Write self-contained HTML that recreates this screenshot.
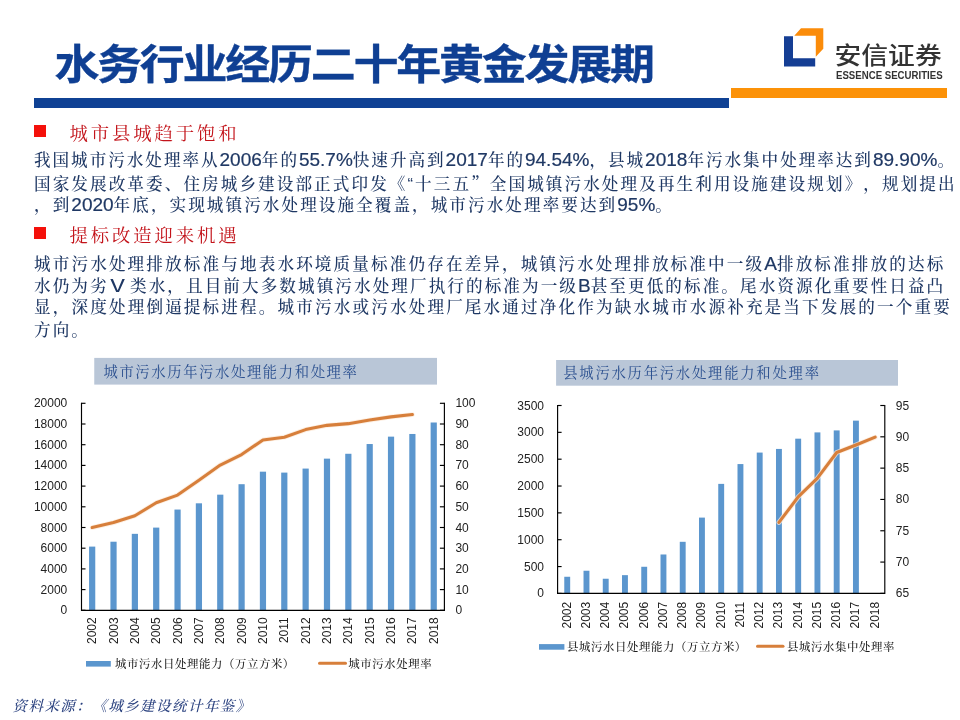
<!DOCTYPE html>
<html lang="zh-CN">
<head>
<meta charset="utf-8">
<title>水务行业经历二十年黄金发展期</title>
<style>
html,body{margin:0;padding:0;background:#fff;}
body{text-spacing-trim:space-all;width:960px;height:720px;position:relative;overflow:hidden;font-family:"Liberation Sans","Noto Sans CJK SC",sans-serif;}
.abs{position:absolute;}
h1{position:absolute;left:54.4px;top:35.4px;margin:0;font:bold 45px/62px "Liberation Sans","Noto Sans CJK SC",sans-serif;color:#0F3F93;white-space:nowrap;letter-spacing:-2.27px;-webkit-text-stroke:0.35px #0F3F93;transform:scaleY(0.9);transform-origin:0 50%;}
.bar1{position:absolute;left:34px;top:98px;width:695px;height:10px;background:#0F4194;}
.bar2{position:absolute;left:731px;top:88px;width:216px;height:10px;background:#FC9208;}
.sq{position:absolute;left:34px;width:12px;height:12px;background:#F4100A;}
.hd{position:absolute;left:69.5px;margin:0;font:normal 18.4px/28px "Liberation Sans","Noto Serif CJK SC",serif;color:#C3141B;white-space:nowrap;letter-spacing:2.85px;}
.bl{position:absolute;left:34px;height:28px;font:500 16.6px/28px "Liberation Sans","Noto Serif CJK SC",serif;color:#1F3864;white-space:nowrap;letter-spacing:2.09px;}
.n{font-size:19px;letter-spacing:0;-webkit-text-stroke:0.2px #1F3864;}
.q{font-family:"Noto Serif CJK SC",serif;}
.v{font-family:"Noto Sans CJK SC",sans-serif;font-weight:400;font-size:17px;letter-spacing:0;display:inline-block;width:17px;margin-right:4.4px;text-align:left;line-height:20px;transform:scaleX(1.48);}
.ct{position:absolute;height:26px;}
.ct{z-index:2;}
.ct span{position:absolute;top:0;font:normal 14.3px/26px "Liberation Sans","Noto Serif CJK SC",serif;color:#2A4F8F;white-space:nowrap;letter-spacing:1.64px;}
.lg{position:absolute;letter-spacing:0.6px;font:500 11.4px/16px "Liberation Sans","Noto Serif CJK SC",serif;color:#1c1c1c;white-space:nowrap;}
.src{position:absolute;left:12.5px;top:694px;letter-spacing:1.45px;font:italic 500 14.5px/24px "Liberation Sans","Noto Serif CJK SC",serif;color:#2C4380;white-space:nowrap;}
svg text.ax{font:12px "Liberation Sans",sans-serif;fill:#222;}
.logo-cn{position:absolute;left:834.5px;top:36.3px;font:500 26.8px/40px "Liberation Sans","Noto Sans CJK SC",sans-serif;color:#333;white-space:nowrap;transform:scaleY(0.875);transform-origin:0 50%;}
.logo-en{position:absolute;left:835.8px;top:70.3px;font:bold 10.3px/12px "Liberation Sans",sans-serif;color:#333;white-space:nowrap;letter-spacing:0;transform:scaleX(0.936);transform-origin:0 50%;}
</style>
</head>
<body>
<h1>水务行业经历二十年黄金发展期</h1>
<div class="bar1"></div>
<div class="bar2"></div>

<svg class="abs" style="left:780px;top:24px" width="50" height="48" viewBox="780 24 50 48">
<polygon points="784,36.3 793,36.3 793,58.2 815.2,58.2 815.2,66.5 784,66.5" fill="#153E94"/>
<polygon points="794.3,35.8 801,28.3 823.3,28.3 823.3,48.8 815.8,56.7 815.8,35.8" fill="#FB8C0A"/>
</svg>
<div class="logo-cn">安信证券</div>
<div class="logo-en">ESSENCE SECURITIES</div>

<div class="sq" style="top:125px"></div>
<h2 class="hd" style="top:119.6px">城市县城趋于饱和</h2>
<div class="sq" style="top:227px"></div>
<h2 class="hd" style="top:221.6px">提标改造迎来机遇</h2>
<div class="bl" style="top:146.0px;letter-spacing:1.96px">我国城市污水处理率从<span class="n">2006</span>年的<span class="n">55.7%</span>快速升高到<span class="n">2017</span>年的<span class="n">94.54%</span>，县城<span class="n">2018</span>年污水集中处理率达到<span class="n">89.90%</span>。</div>
<div class="bl" style="top:168.5px;letter-spacing:2.08px">国家发展改革委、住房城乡建设部正式印发<span class="q">《</span>“十三五<span class="q">”</span>全国城镇污水处理及再生利用设施建设规划》，规划提出</div>
<div class="bl" style="top:191.0px;letter-spacing:2.06px">，到<span class="n">2020</span>年底，实现城镇污水处理设施全覆盖，城市污水处理率要达到<span class="n">95%</span>。</div>
<div class="bl" style="top:250.0px;letter-spacing:2.13px">城市污水处理排放标准与地表水环境质量标准仍存在差异，城镇污水处理排放标准中一级<span class="n">A</span>排放标准排放的达标</div>
<div class="bl" style="top:272.0px;letter-spacing:2.07px">水仍为劣<span class="v">Ⅴ</span>类水，且目前大多数城镇污水处理厂执行的标准为一级<span class="n">B</span>甚至更低的标准。尾水资源化重要性日益凸</div>
<div class="bl" style="top:294.0px;letter-spacing:2.14px">显，深度处理倒逼提标进程。城市污水或污水处理厂尾水通过净化作为缺水城市水源补充是当下发展的一个重要</div>
<div class="bl" style="top:316.5px">方向。</div>

<div class="ct" style="left:94px;top:359.2px;width:343px"><span style="left:9.5px">城市污水历年污水处理能力和处理率</span></div>
<div class="ct" style="left:556px;top:360px;width:342px"><span style="left:7.2px;letter-spacing:1.8px">县城污水历年污水处理能力和处理率</span></div>

<svg class="abs" style="left:0;top:340px" width="960" height="340" viewBox="0 340 960 340">
<rect x="94.25" y="357.9" width="342.75" height="26.7" fill="#B9C6D7"/>
<rect x="556.1" y="360" width="341.9" height="25.7" fill="#B9C6D7"/>
<rect x="89.07" y="546.60" width="6.2" height="63.70" fill="#5B96CE"/>
<rect x="110.42" y="541.72" width="6.2" height="68.58" fill="#5B96CE"/>
<rect x="131.77" y="533.84" width="6.2" height="76.46" fill="#5B96CE"/>
<rect x="153.11" y="527.60" width="6.2" height="82.70" fill="#5B96CE"/>
<rect x="174.46" y="509.55" width="6.2" height="100.75" fill="#5B96CE"/>
<rect x="195.81" y="503.31" width="6.2" height="106.99" fill="#5B96CE"/>
<rect x="217.16" y="494.66" width="6.2" height="115.64" fill="#5B96CE"/>
<rect x="238.50" y="484.20" width="6.2" height="126.10" fill="#5B96CE"/>
<rect x="259.85" y="471.68" width="6.2" height="138.62" fill="#5B96CE"/>
<rect x="281.20" y="472.60" width="6.2" height="137.70" fill="#5B96CE"/>
<rect x="302.54" y="468.58" width="6.2" height="141.72" fill="#5B96CE"/>
<rect x="323.89" y="458.64" width="6.2" height="151.66" fill="#5B96CE"/>
<rect x="345.24" y="453.77" width="6.2" height="156.53" fill="#5B96CE"/>
<rect x="366.59" y="444.03" width="6.2" height="166.27" fill="#5B96CE"/>
<rect x="387.93" y="436.64" width="6.2" height="173.66" fill="#5B96CE"/>
<rect x="409.28" y="433.97" width="6.2" height="176.33" fill="#5B96CE"/>
<rect x="430.63" y="422.50" width="6.2" height="187.80" fill="#5B96CE"/>
<polyline points="92.17,527.56 113.52,522.55 134.87,515.76 156.21,502.76 177.56,495.06 198.91,480.16 220.26,465.07 241.60,454.53 262.95,439.92 284.30,437.19 305.64,429.59 326.99,425.37 348.34,423.63 369.69,420.07 391.03,416.88 412.38,414.60" fill="none" stroke="#FCE9D8" stroke-opacity="0.75" stroke-width="4.9" stroke-linejoin="round" stroke-linecap="round"/>
<polyline points="92.17,527.56 113.52,522.55 134.87,515.76 156.21,502.76 177.56,495.06 198.91,480.16 220.26,465.07 241.60,454.53 262.95,439.92 284.30,437.19 305.64,429.59 326.99,425.37 348.34,423.63 369.69,420.07 391.03,416.88 412.38,414.60" fill="none" stroke="#D77F3B" stroke-width="3.05" stroke-linejoin="round" stroke-linecap="round"/>
<path d="M81.5 402.8V610.3H444.4V402.8" fill="none" stroke="#000" stroke-width="1.15"/>
<path d="M81.5 610.30h4" stroke="#000" stroke-width="1.15"/>
<text x="67.3" y="614.30" text-anchor="end" class="ax">0</text>
<path d="M81.5 589.60h4" stroke="#000" stroke-width="1.15"/>
<text x="67.3" y="593.60" text-anchor="end" class="ax">2000</text>
<path d="M81.5 568.90h4" stroke="#000" stroke-width="1.15"/>
<text x="67.3" y="572.90" text-anchor="end" class="ax">4000</text>
<path d="M81.5 548.20h4" stroke="#000" stroke-width="1.15"/>
<text x="67.3" y="552.20" text-anchor="end" class="ax">6000</text>
<path d="M81.5 527.50h4" stroke="#000" stroke-width="1.15"/>
<text x="67.3" y="531.50" text-anchor="end" class="ax">8000</text>
<path d="M81.5 506.80h4" stroke="#000" stroke-width="1.15"/>
<text x="67.3" y="510.80" text-anchor="end" class="ax">10000</text>
<path d="M81.5 486.10h4" stroke="#000" stroke-width="1.15"/>
<text x="67.3" y="490.10" text-anchor="end" class="ax">12000</text>
<path d="M81.5 465.40h4" stroke="#000" stroke-width="1.15"/>
<text x="67.3" y="469.40" text-anchor="end" class="ax">14000</text>
<path d="M81.5 444.70h4" stroke="#000" stroke-width="1.15"/>
<text x="67.3" y="448.70" text-anchor="end" class="ax">16000</text>
<path d="M81.5 424.00h4" stroke="#000" stroke-width="1.15"/>
<text x="67.3" y="428.00" text-anchor="end" class="ax">18000</text>
<path d="M81.5 403.30h4" stroke="#000" stroke-width="1.15"/>
<text x="67.3" y="407.30" text-anchor="end" class="ax">20000</text>
<path d="M444.4 610.30h-4.5" stroke="#000" stroke-width="1.15"/>
<text x="455.4" y="614.30" class="ax">0</text>
<path d="M444.4 589.60h-4.5" stroke="#000" stroke-width="1.15"/>
<text x="455.4" y="593.60" class="ax">10</text>
<path d="M444.4 568.90h-4.5" stroke="#000" stroke-width="1.15"/>
<text x="455.4" y="572.90" class="ax">20</text>
<path d="M444.4 548.20h-4.5" stroke="#000" stroke-width="1.15"/>
<text x="455.4" y="552.20" class="ax">30</text>
<path d="M444.4 527.50h-4.5" stroke="#000" stroke-width="1.15"/>
<text x="455.4" y="531.50" class="ax">40</text>
<path d="M444.4 506.80h-4.5" stroke="#000" stroke-width="1.15"/>
<text x="455.4" y="510.80" class="ax">50</text>
<path d="M444.4 486.10h-4.5" stroke="#000" stroke-width="1.15"/>
<text x="455.4" y="490.10" class="ax">60</text>
<path d="M444.4 465.40h-4.5" stroke="#000" stroke-width="1.15"/>
<text x="455.4" y="469.40" class="ax">70</text>
<path d="M444.4 444.70h-4.5" stroke="#000" stroke-width="1.15"/>
<text x="455.4" y="448.70" class="ax">80</text>
<path d="M444.4 424.00h-4.5" stroke="#000" stroke-width="1.15"/>
<text x="455.4" y="428.00" class="ax">90</text>
<path d="M444.4 403.30h-4.5" stroke="#000" stroke-width="1.15"/>
<text x="455.4" y="407.30" class="ax">100</text>
<text transform="translate(96.27,617.3) rotate(-90)" text-anchor="end" class="ax">2002</text>
<text transform="translate(117.62,617.3) rotate(-90)" text-anchor="end" class="ax">2003</text>
<text transform="translate(138.97,617.3) rotate(-90)" text-anchor="end" class="ax">2004</text>
<text transform="translate(160.31,617.3) rotate(-90)" text-anchor="end" class="ax">2005</text>
<text transform="translate(181.66,617.3) rotate(-90)" text-anchor="end" class="ax">2006</text>
<text transform="translate(203.01,617.3) rotate(-90)" text-anchor="end" class="ax">2007</text>
<text transform="translate(224.36,617.3) rotate(-90)" text-anchor="end" class="ax">2008</text>
<text transform="translate(245.70,617.3) rotate(-90)" text-anchor="end" class="ax">2009</text>
<text transform="translate(267.05,617.3) rotate(-90)" text-anchor="end" class="ax">2010</text>
<text transform="translate(288.40,617.3) rotate(-90)" text-anchor="end" class="ax">2011</text>
<text transform="translate(309.74,617.3) rotate(-90)" text-anchor="end" class="ax">2012</text>
<text transform="translate(331.09,617.3) rotate(-90)" text-anchor="end" class="ax">2013</text>
<text transform="translate(352.44,617.3) rotate(-90)" text-anchor="end" class="ax">2014</text>
<text transform="translate(373.79,617.3) rotate(-90)" text-anchor="end" class="ax">2015</text>
<text transform="translate(395.13,617.3) rotate(-90)" text-anchor="end" class="ax">2016</text>
<text transform="translate(416.48,617.3) rotate(-90)" text-anchor="end" class="ax">2017</text>
<text transform="translate(437.83,617.3) rotate(-90)" text-anchor="end" class="ax">2018</text>
<rect x="564.27" y="576.76" width="5.9" height="16.64" fill="#5B96CE"/>
<rect x="583.52" y="570.74" width="5.9" height="22.66" fill="#5B96CE"/>
<rect x="602.77" y="578.74" width="5.9" height="14.66" fill="#5B96CE"/>
<rect x="622.01" y="575.15" width="5.9" height="18.25" fill="#5B96CE"/>
<rect x="641.26" y="566.77" width="5.9" height="26.63" fill="#5B96CE"/>
<rect x="660.51" y="554.48" width="5.9" height="38.92" fill="#5B96CE"/>
<rect x="679.76" y="541.81" width="5.9" height="51.59" fill="#5B96CE"/>
<rect x="699.00" y="517.60" width="5.9" height="75.80" fill="#5B96CE"/>
<rect x="718.25" y="483.88" width="5.9" height="109.52" fill="#5B96CE"/>
<rect x="737.50" y="464.07" width="5.9" height="129.33" fill="#5B96CE"/>
<rect x="756.74" y="452.58" width="5.9" height="140.82" fill="#5B96CE"/>
<rect x="775.99" y="448.93" width="5.9" height="144.47" fill="#5B96CE"/>
<rect x="795.24" y="438.68" width="5.9" height="154.72" fill="#5B96CE"/>
<rect x="814.49" y="432.40" width="5.9" height="161.00" fill="#5B96CE"/>
<rect x="833.73" y="430.41" width="5.9" height="162.99" fill="#5B96CE"/>
<rect x="852.98" y="420.64" width="5.9" height="172.76" fill="#5B96CE"/>
<polyline points="778.94,522.44 798.19,496.94 817.44,478.15 836.68,452.48 855.93,444.96 875.18,437.19" fill="none" stroke="#FCE9D8" stroke-opacity="0.75" stroke-width="4.9" stroke-linejoin="round" stroke-linecap="round"/>
<polyline points="778.94,522.44 798.19,496.94 817.44,478.15 836.68,452.48 855.93,444.96 875.18,437.19" fill="none" stroke="#D77F3B" stroke-width="3.05" stroke-linejoin="round" stroke-linecap="round"/>
<path d="M557.6 405.0V593.4H884.8V405.0" fill="none" stroke="#000" stroke-width="1.15"/>
<path d="M557.6 593.40h4" stroke="#000" stroke-width="1.15"/>
<text x="544.0" y="597.40" text-anchor="end" class="ax">0</text>
<path d="M557.6 566.56h4" stroke="#000" stroke-width="1.15"/>
<text x="544.0" y="570.56" text-anchor="end" class="ax">500</text>
<path d="M557.6 539.71h4" stroke="#000" stroke-width="1.15"/>
<text x="544.0" y="543.71" text-anchor="end" class="ax">1000</text>
<path d="M557.6 512.87h4" stroke="#000" stroke-width="1.15"/>
<text x="544.0" y="516.87" text-anchor="end" class="ax">1500</text>
<path d="M557.6 486.03h4" stroke="#000" stroke-width="1.15"/>
<text x="544.0" y="490.03" text-anchor="end" class="ax">2000</text>
<path d="M557.6 459.19h4" stroke="#000" stroke-width="1.15"/>
<text x="544.0" y="463.19" text-anchor="end" class="ax">2500</text>
<path d="M557.6 432.34h4" stroke="#000" stroke-width="1.15"/>
<text x="544.0" y="436.34" text-anchor="end" class="ax">3000</text>
<path d="M557.6 405.50h4" stroke="#000" stroke-width="1.15"/>
<text x="544.0" y="409.50" text-anchor="end" class="ax">3500</text>
<path d="M884.8 593.40h-4.5" stroke="#000" stroke-width="1.15"/>
<text x="895.8" y="597.40" class="ax">65</text>
<path d="M884.8 562.08h-4.5" stroke="#000" stroke-width="1.15"/>
<text x="895.8" y="566.08" class="ax">70</text>
<path d="M884.8 530.77h-4.5" stroke="#000" stroke-width="1.15"/>
<text x="895.8" y="534.77" class="ax">75</text>
<path d="M884.8 499.45h-4.5" stroke="#000" stroke-width="1.15"/>
<text x="895.8" y="503.45" class="ax">80</text>
<path d="M884.8 468.13h-4.5" stroke="#000" stroke-width="1.15"/>
<text x="895.8" y="472.13" class="ax">85</text>
<path d="M884.8 436.82h-4.5" stroke="#000" stroke-width="1.15"/>
<text x="895.8" y="440.82" class="ax">90</text>
<path d="M884.8 405.50h-4.5" stroke="#000" stroke-width="1.15"/>
<text x="895.8" y="409.50" class="ax">95</text>
<text transform="translate(570.62,601.8) rotate(-90)" text-anchor="end" class="ax">2002</text>
<text transform="translate(589.87,601.8) rotate(-90)" text-anchor="end" class="ax">2003</text>
<text transform="translate(609.12,601.8) rotate(-90)" text-anchor="end" class="ax">2004</text>
<text transform="translate(628.36,601.8) rotate(-90)" text-anchor="end" class="ax">2005</text>
<text transform="translate(647.61,601.8) rotate(-90)" text-anchor="end" class="ax">2006</text>
<text transform="translate(666.86,601.8) rotate(-90)" text-anchor="end" class="ax">2007</text>
<text transform="translate(686.11,601.8) rotate(-90)" text-anchor="end" class="ax">2008</text>
<text transform="translate(705.35,601.8) rotate(-90)" text-anchor="end" class="ax">2009</text>
<text transform="translate(724.60,601.8) rotate(-90)" text-anchor="end" class="ax">2010</text>
<text transform="translate(743.85,601.8) rotate(-90)" text-anchor="end" class="ax">2011</text>
<text transform="translate(763.09,601.8) rotate(-90)" text-anchor="end" class="ax">2012</text>
<text transform="translate(782.34,601.8) rotate(-90)" text-anchor="end" class="ax">2013</text>
<text transform="translate(801.59,601.8) rotate(-90)" text-anchor="end" class="ax">2014</text>
<text transform="translate(820.84,601.8) rotate(-90)" text-anchor="end" class="ax">2015</text>
<text transform="translate(840.08,601.8) rotate(-90)" text-anchor="end" class="ax">2016</text>
<text transform="translate(859.33,601.8) rotate(-90)" text-anchor="end" class="ax">2017</text>
<text transform="translate(878.58,601.8) rotate(-90)" text-anchor="end" class="ax">2018</text>
<rect x="86" y="661" width="24.8" height="5.6" fill="#5B96CE"/>
<path d="M319.5 663.3H345.5" stroke="#D77F3B" stroke-width="3" stroke-linecap="round"/>
<rect x="539" y="644.1" width="25.4" height="5.6" fill="#5B96CE"/>
<path d="M757.5 646.3H783" stroke="#D77F3B" stroke-width="3" stroke-linecap="round"/>
</svg>
<div class="lg" style="left:115px;top:656px">城市污水日处理能力（万立方米）</div>
<div class="lg" style="left:348.3px;top:656px">城市污水处理率</div>
<div class="lg" style="left:567px;top:639px">县城污水日处理能力（万立方米）</div>
<div class="lg" style="left:787px;top:639px">县城污水集中处理率</div>

<div class="src">资料来源：《城乡建设统计年鉴》</div>
</body>
</html>
